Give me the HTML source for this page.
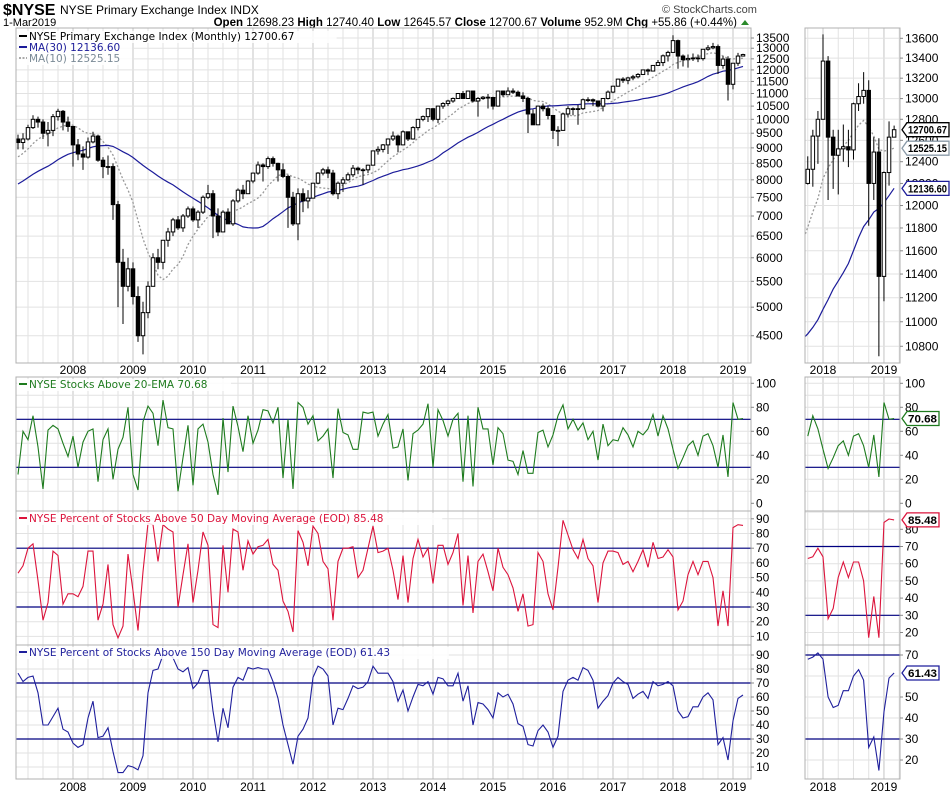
<!DOCTYPE html>
<html><head><meta charset="utf-8">
<style>
html,body{margin:0;padding:0;background:#fff;}
body{width:950px;height:795px;overflow:hidden;font-family:"Liberation Sans",sans-serif;}
svg{display:block;}
text{font-family:"Liberation Sans",sans-serif;}
.lg{font-family:"DejaVu Sans",sans-serif;font-size:10.5px;}
.ax{font-size:12px;fill:#000;}
</style></head>
<body>
<svg id="chart" width="950" height="795" viewBox="0 0 950 795" xmlns="http://www.w3.org/2000/svg">
<defs>
<clipPath id="cpMain"><rect x="16" y="28" width="735" height="335"/></clipPath>
<clipPath id="cpSmall"><rect x="805" y="28" width="95" height="335"/></clipPath>
<clipPath id="cp2"><rect x="16" y="377" width="735" height="134"/></clipPath>
<clipPath id="cp2s"><rect x="805" y="377" width="95" height="134"/></clipPath>
<clipPath id="cp3"><rect x="16" y="511" width="735" height="134"/></clipPath>
<clipPath id="cp3s"><rect x="805" y="511" width="95" height="134"/></clipPath>
<clipPath id="cp4"><rect x="16" y="645" width="735" height="134"/></clipPath>
<clipPath id="cp4s"><rect x="805" y="645" width="95" height="134"/></clipPath>
</defs>
<text x="3" y="15" font-size="16" font-weight="bold">$NYSE</text>
<text x="60" y="14" font-size="12">NYSE Primary Exchange Index  INDX</text>
<text x="3" y="26" font-size="11">1-Mar2019</text>
<text x="662" y="13" font-size="11" fill="#444">© StockCharts.com</text>
<text x="737" y="26" font-size="11.5" text-anchor="end"><tspan font-weight="bold">Open</tspan> 12698.23 <tspan font-weight="bold">High</tspan> 12740.40 <tspan font-weight="bold">Low</tspan> 12645.57 <tspan font-weight="bold">Close</tspan> 12700.67 <tspan font-weight="bold">Volume</tspan> 952.9M <tspan font-weight="bold">Chg</tspan> +55.86 (+0.44%)</text>
<polygon points="741,25 749,25 745,20" fill="#2a8a2a"/>
<g id="layer"></g>
</svg>
<script>
// ---------- DATA ----------
const priorCloses = [6600,6700,7000,7250,7100,7300,7150,7000,7200,7300,7550,7500,7650,7400,7700,7750,8100,8150,8300,8500,8200,8200,8250,8400,8500,8800,9100,9140,9300];
const closes = [9180,9300,9700,10000,9900,9500,9600,10100,10300,9900,9740,
9100,8800,8700,9200,9400,8600,8400,8400,7300,5900,5400,5760,
5200,4500,4900,5400,6000,5900,6400,6600,6900,6700,7000,7185,
6900,7100,7500,7600,7000,6600,7100,6800,7400,7700,7600,7964,
8200,8450,8400,8650,8500,8300,8100,7500,6800,7600,7400,7477,
7900,8200,8300,8200,7600,7900,8000,8150,8350,8300,8300,8443,
8900,8950,9100,9300,9400,9100,9550,9300,9700,10000,10100,10400,
10000,10500,10600,10700,10800,11000,10800,11100,10700,10800,10850,10839,
10500,11100,10950,11100,11050,10900,10800,10200,9800,10500,10400,10143,
9600,9600,10200,10400,10400,10400,10750,10750,10700,10500,10800,11057,
11300,11600,11550,11650,11700,11800,12000,11950,12200,12330,12640,12800,
13370,12630,12460,12520,12540,12510,12950,13020,13080,12200,12490,11380,
12300,12630,12700.67];
const highs = [9450,9500,9800,10150,10100,10000,9900,10200,10400,10350,10100,
9750,9300,9050,9350,9550,9450,8700,8750,8500,7400,6200,6000,
5900,5400,5100,5500,6100,6200,6400,6700,6950,7000,7050,7250,
7250,7150,7550,7850,7700,7200,7150,7200,7450,7750,7850,7990,
8220,8560,8500,8720,8720,8520,8500,8150,7650,7750,7750,7700,
7910,8230,8360,8400,8300,7950,8080,8220,8450,8400,8350,8460,
8910,9050,9130,9320,9560,9450,9600,9560,9750,10000,10140,10410,
10420,10520,10650,10750,10840,11020,11100,11120,11110,10860,10900,10980,
10870,11110,11120,11250,11210,11120,11050,10870,10370,10520,10600,10520,
10140,9750,10250,10500,10450,10550,10800,10850,10800,10720,10800,11120,
11320,11620,11680,11700,11780,11860,12000,12060,12220,12450,12700,12880,
13640,13420,12700,12700,12750,12700,12960,13150,13260,13180,12630,12620,
12310,12780,12740];
const lows = [8950,8950,9250,9650,9700,9300,9050,9400,9950,9600,9550,
8400,8600,8300,8650,9150,8550,8050,8150,6900,5000,4700,5300,
5050,4400,4200,4800,5400,5750,5750,6250,6500,6650,6600,6950,
6850,6700,7050,7450,6450,6500,6600,6800,6750,7350,7450,7600,
7900,8150,7950,8330,8400,7950,8050,6700,6750,6400,7100,7200,
7480,7870,8130,8050,7550,7450,7650,7970,8080,8170,7850,8200,
8440,8780,8850,8800,9230,8850,9090,9230,9280,9600,9930,9900,
9930,9860,10400,10500,10630,10790,10800,10780,10650,10100,10750,10410,
10370,10480,10870,10940,10980,10880,10660,9510,9880,9800,10300,10000,
9300,9060,9600,10070,10150,9800,10350,10650,10500,10450,10300,10760,
11010,11280,11440,11380,11550,11630,11800,11770,11930,12190,12170,12380,
12820,12050,12150,12100,12400,12350,12420,12880,12950,11820,12050,10720,
11170,12180,12645];
const ema20Pct = [24,60,53,73,47,12,61,65,62,50,39,56,30,51,60,62,18,53,62,20,45,55,80,24,11,68,81,75,48,86,63,62,10,38,65,15,62,66,51,24,7,71,26,81,64,43,73,50,61,78,
77,67,80,21,70,12,84,80,66,73,52,56,62,21,79,59,57,45,45,76,75,76,56,66,74,46,47,62,19,58,61,66,83,30,78,69,56,70,75,18,73,14,80,62,62,32,63,58,
36,35,24,44,25,25,59,61,47,57,73,82,62,70,61,67,53,60,36,66,48,53,52,63,57,47,60,57,62,74,56,73,62,45,29,38,48,52,40,56,58,48,30,57,22,84,70,70.68];
const pct50 = [53,58,70,73,48,21,33,68,65,32,39,39,37,44,68,68,21,32,59,18,9,17,66,41,14,54,87,86,61,86,83,81,30,52,73,33,55,81,72,18,16,72,40,83,81,55,75,66,71,72,
76,59,55,34,27,13,82,74,58,85,80,61,56,21,61,70,70,71,50,55,70,85,67,68,70,55,35,65,33,63,76,64,70,46,72,72,59,67,80,31,65,26,61,66,54,41,70,57,
52,43,27,39,17,18,67,61,39,28,57,89,79,69,63,76,63,58,33,60,68,68,67,59,61,54,61,69,57,74,63,64,69,64,28,34,52,61,52,61,61,50,17,41,17,84,86,85.48];
const pct150 = [77,71,74,75,63,40,40,46,52,37,35,27,24,26,45,57,31,32,38,21,6,6,11,10,8,18,63,79,80,90,91,88,80,78,81,66,70,79,79,50,28,52,38,67,74,72,81,80,81,80,
80,71,59,40,26,12,32,37,45,74,82,80,75,40,52,51,59,68,66,67,71,82,77,77,77,71,57,65,50,60,69,68,71,62,74,73,68,68,77,57,68,40,56,55,51,45,63,60,
62,55,41,39,26,25,36,40,35,24,32,64,72,74,72,81,79,72,52,57,61,70,74,71,69,59,62,64,59,71,68,69,71,68,50,45,46,53,53,60,63,58,26,31,15,43,59,61.43];
const priceTicks = [13500,13000,12500,12000,11500,11000,10500,10000,9500,9000,8500,8000,7500,7000,6500,6000,5500,5000,4500];
const smallPriceTicks = [13600,13400,13200,13000,12800,12600,12400,12200,12000,11800,11600,11400,11200,11000,10800];
const yearLabels = ["2008","2009","2010","2011","2012","2013","2014","2015","2016","2017","2018","2019"];
const ticks2 = [100,80,60,40,20,0];
const ticks3 = [90,80,70,60,50,40,30,20,10];
const ticks3s = [80,70,60,50,40,30,20];
const ticks4 = [90,80,70,60,50,40,30,20,10];
const ticks4s = [70,50,40,30,20];

// ---------- SCALES ----------
const JAN2008 = 11, JAN2018 = 131, SMALL_START = 128;
function xM(i){ return 18 + 5*i; }
function xS(i){ return 823 + 5.08*(i - JAN2018); }
function yP(v){ return 38 + 271*Math.log(13500/v); }
function yPs(v){ return 38.3 + 1336*Math.log(13600/v); }
function y2(v){ return 503.3 - 1.2*v; }
function y3(v){ return 607 - (v-30)*1.47; }
function y3s(v){ return 615.3 - (v-30)*1.72; }
function y4(v){ return 739 - (v-30)*1.4; }
function y4s(v){ return 739 - (v-30)*2.1; }

const NS = "http://www.w3.org/2000/svg";
const layer = document.getElementById('layer');
function mk(tag, attrs, parent){
  const e = document.createElementNS(NS, tag);
  for (const k in attrs) e.setAttribute(k, attrs[k]);
  (parent || layer).appendChild(e);
  return e;
}
function group(clip){ return mk('g', clip ? {'clip-path':'url(#'+clip+')'} : {}); }

const all = priorCloses.concat(closes);
function ma(n, i){ let s=0; for (let k=0;k<n;k++) s += all[priorCloses.length+i-k]; return s/n; }
const ma30 = closes.map((_,i)=>ma(30,i));
const ma10 = closes.map((_,i)=>ma(10,i));

const P = [
 {x:16,w:735,y:28,h:335,name:'price-panel'},
 {x:805,w:95,y:28,h:335,name:'price-zoom-panel'},
 {x:16,w:735,y:377,h:134,name:'ema20-panel'},
 {x:805,w:95,y:377,h:134,name:'ema20-zoom-panel'},
 {x:16,w:735,y:511,h:134,name:'pct50-panel'},
 {x:805,w:95,y:511,h:134,name:'pct50-zoom-panel'},
 {x:16,w:735,y:645,h:134,name:'pct150-panel'},
 {x:805,w:95,y:645,h:134,name:'pct150-zoom-panel'}
];

function vgrid(p, small){
  const g = group();
  
  
  for (let q=-4; q<=50; q++){
    const i = JAN2008 + q*3;
    const x = small ? xS(i) : xM(i);
    if (x < p.x || x > p.x+p.w) continue;
    const yr = q%4===0;
    mk('line',{x1:x,x2:x,y1:p.y,y2:p.y+p.h,stroke:yr?'#c4c4c4':'#e2e2e2','stroke-width':1},g);
  }
}
function hgrid(p, vals, fy){
  const g = group();
  
  
  vals.forEach(v=>{ const y=fy(v); if (y>p.y && y<p.y+p.h) mk('line',{x1:p.x,x2:p.x+p.w,y1:y,y2:y,stroke:'#e2e2e2'},g); });
}
function axisLabels(p, vals, fy, name){
  const g = group();
  
  
  vals.forEach(v=>{
    const y = fy(v);
    mk('line',{x1:p.x+p.w,x2:p.x+p.w+3,y1:y,y2:y,stroke:'#888'},g);
    const t = mk('text',{x:p.x+p.w+5,y:y+4,class:'ax'},g);
    t.textContent = String(v);
  });
}

vgrid(P[0],false); vgrid(P[1],true);
for (let k=2;k<8;k++) vgrid(P[k], k%2===1);
hgrid(P[0], priceTicks, yP);
hgrid(P[1], smallPriceTicks, yPs);
const tens = [10,20,30,40,50,60,70,80,90,100];
hgrid(P[2], tens, y2); hgrid(P[3], tens, y2);
hgrid(P[4], tens, y3); hgrid(P[5], tens, y3s);
hgrid(P[6], tens, y4); hgrid(P[7], tens, y4s);

function candles(clip, fx, fy, from, name, bw){
  const g = group(clip);
  
  
  for (let i=from;i<closes.length;i++){
    const o = all[priorCloses.length+i-1], c = closes[i];
    const x = fx(i);
    const w = mk('line',{x1:x,x2:x,y1:fy(highs[i]),y2:fy(lows[i]),stroke:'#000','stroke-width':1},g);
    
    
    const top = fy(Math.max(o,c)), bot = fy(Math.min(o,c));
    const r = mk('rect',{x:x-bw/2,y:top,width:bw,height:Math.max(bot-top,0.8),fill:c>=o?'#fff':'#000',stroke:'#000','stroke-width':1},g);
    
    
  }
}
function line(clip, vals, fx, fy, from, color, name, dash, sw){
  const g = group(clip);
  let d='';
  for (let i=from;i<vals.length;i++){ d += (i===from?'M':'L') + fx(i).toFixed(1) + ',' + fy(vals[i]).toFixed(1); }
  const p = mk('path',{d:d,fill:'none',stroke:color,'stroke-width':sw||1.2,'stroke-dasharray':dash||'none'},g);
  
  
}
line('cpMain', ma10, xM, yP, 0, '#999', 'ma10-line', '2,2', 1.3);
line('cpMain', ma30, xM, yP, 0, '#1c1c9a', 'ma30-line', null, 1.2);
candles('cpMain', xM, yP, 0, 'price-candles', 3.5);
line('cpSmall', ma10, xS, yPs, SMALL_START-1, '#999', 'ma10-zoom-line', '2,2', 1.3);
line('cpSmall', ma30, xS, yPs, SMALL_START-1, '#1c1c9a', 'ma30-zoom-line', null, 1.2);
candles('cpSmall', xS, yPs, SMALL_START, 'price-zoom-candles', 3.5);

function thresh(p, fy, name){
  const g = group();
  
  
  [70,30].forEach(v=>mk('line',{x1:p.x,x2:p.x+p.w,y1:fy(v),y2:fy(v),stroke:'#000080','stroke-width':1.2},g));
}
thresh(P[2], y2, 'ema20-thresholds'); thresh(P[3], y2, 'ema20-zoom-thresholds');
thresh(P[4], y3, 'pct50-thresholds'); thresh(P[5], y3s, 'pct50-zoom-thresholds');
thresh(P[6], y4, 'pct150-thresholds'); thresh(P[7], y4s, 'pct150-zoom-thresholds');
line('cp2', ema20Pct, xM, y2, 0, '#1e7b1e', 'ema20-line', null, 1.1);
line('cp2s', ema20Pct, xS, y2, SMALL_START, '#1e7b1e', 'ema20-zoom-line', null, 1.1);
line('cp3', pct50, xM, y3, 0, '#dc143c', 'pct50-line', null, 1.1);
line('cp3s', pct50, xS, y3s, SMALL_START, '#dc143c', 'pct50-zoom-line', null, 1.1);
line('cp4', pct150, xM, y4, 0, '#1f1f9c', 'pct150-line', null, 1.1);
line('cp4s', pct150, xS, y4s, SMALL_START, '#1f1f9c', 'pct150-zoom-line', null, 1.1);

P.forEach(p=>{
  const r = mk('rect',{x:p.x,y:p.y,width:p.w,height:p.h,fill:'none',stroke:'#b0b0b0','stroke-width':1});
  
  
});

axisLabels(P[0], priceTicks, yP, 'price-y-axis');
axisLabels(P[1], smallPriceTicks, yPs, 'price-zoom-y-axis');
axisLabels(P[2], ticks2, y2, 'ema20-y-axis');
axisLabels(P[3], ticks2, y2, 'ema20-zoom-y-axis');
axisLabels(P[4], ticks3, y3, 'pct50-y-axis');
axisLabels(P[5], ticks3s, y3s, 'pct50-zoom-y-axis');
axisLabels(P[6], ticks4, y4, 'pct150-y-axis');
axisLabels(P[7], ticks4s, y4s, 'pct150-zoom-y-axis');

function years(fx, yy, from, name){
  const g = group();
  
  
  yearLabels.forEach((lab,k)=>{
    if (k < from) return;
    const t = mk('text',{x:fx(JAN2008+12*k),y:yy,'text-anchor':'middle','font-size':12},g);
    t.textContent = lab;
  });
}
years(xM, 374, 0, 'price-x-axis');
years(xS, 374, 10, 'price-zoom-x-axis');
years(xM, 791, 0, 'bottom-x-axis');
years(xS, 791, 10, 'bottom-zoom-x-axis');

function tag(y, txt, color, name, bw){
  const g = group();
  
  
  const x0 = 902;
  mk('polygon',{points:`${x0},${y} ${x0+5},${y-7} ${x0+5+bw},${y-7} ${x0+5+bw},${y+7} ${x0+5},${y+7}`,fill:'#fff',stroke:color,'stroke-width':1.3},g);
  const t = mk('text',{x:x0+6,y:y+4,'font-size':11,'font-weight':'bold',fill:'#000','textLength':bw-3,'lengthAdjust':'spacingAndGlyphs'},g);
  t.textContent = txt;
}
tag(yPs(closes[closes.length-1]), '12700.67', '#000', 'close-value-tag', 42);
tag(yPs(ma10[ma10.length-1]), '12525.15', '#8a9aa8', 'ma10-value-tag', 42);
tag(yPs(ma30[ma30.length-1]), '12136.60', '#1c1c9a', 'ma30-value-tag', 42);
tag(y2(ema20Pct[ema20Pct.length-1]), '70.68', '#1e7b1e', 'ema20-value-tag', 32);
tag(y3s(pct50[pct50.length-1]), '85.48', '#dc143c', 'pct50-value-tag', 32);
tag(y4s(pct150[pct150.length-1]), '61.43', '#1f1f9c', 'pct150-value-tag', 32);

function legend(x, y, color, txt, name, dotted){
  const g = group();
  
  
  mk('rect',{x:x-2,y:y-9,width:txt.length*6.6+16,height:12,fill:'#fff','fill-opacity':0.85},g);
  mk('line',{x1:x,x2:x+8,y1:y-4,y2:y-4,stroke:color,'stroke-width':2,'stroke-dasharray':dotted?'2,1.5':'none'},g);
  const t = mk('text',{x:x+10,y:y,class:'lg',fill:dotted?'#7a8a96':(name==='legend-price'?'#000':color)},g);
  t.textContent = txt;
}
legend(19, 40, '#000', 'NYSE Primary Exchange Index (Monthly) 12700.67', 'legend-price');
legend(19, 51, '#1c1c9a', 'MA(30) 12136.60', 'legend-ma30');
legend(19, 62, '#aaa', 'MA(10) 12525.15', 'legend-ma10', true);
legend(19, 388, '#1e7b1e', 'NYSE Stocks Above 20-EMA 70.68', 'legend-ema20');
legend(19, 522, '#dc143c', 'NYSE Percent of Stocks Above 50 Day Moving Average (EOD) 85.48', 'legend-pct50');
legend(19, 656, '#1f1f9c', 'NYSE Percent of Stocks Above 150 Day Moving Average (EOD) 61.43', 'legend-pct150');
</script>
</body></html>
